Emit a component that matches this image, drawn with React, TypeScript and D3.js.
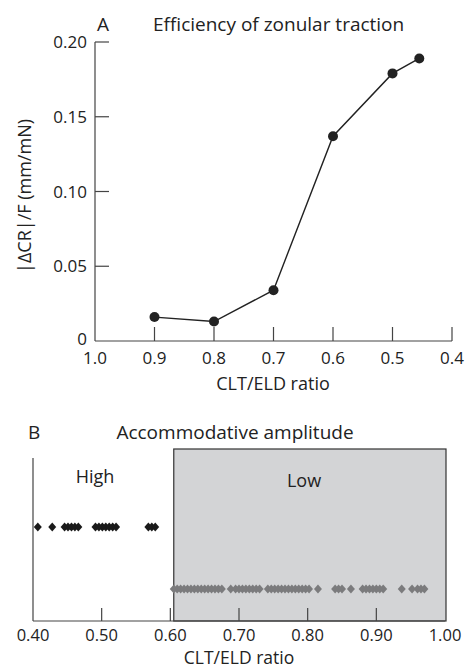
import React, { useEffect, useRef } from 'react';
import * as d3 from 'd3';

// panel A: efficiency of zonular traction
const ratioA = [0.9, 0.8, 0.7, 0.6, 0.5, 0.455];
const effA = [0.016, 0.013, 0.034, 0.137, 0.179, 0.189];
const yTicksA = [0, 0.05, 0.1, 0.15, 0.2];
const xTicksA = [1.0, 0.9, 0.8, 0.7, 0.6, 0.5, 0.4];

// panel B: accommodative amplitude groups
const highRatios = [0.407, 0.428, 0.446, 0.451, 0.456, 0.461, 0.466, 0.491, 0.496, 0.501, 0.506, 0.511,
  0.516, 0.521, 0.568, 0.573, 0.578];
const lowRatios = [0.605, 0.61, 0.615, 0.62, 0.625, 0.63, 0.635, 0.64, 0.645, 0.65, 0.655, 0.66, 0.665,
  0.67, 0.675, 0.688, 0.695, 0.70, 0.705, 0.71, 0.715, 0.72, 0.725, 0.73, 0.742, 0.747, 0.752, 0.757,
  0.762, 0.767, 0.772, 0.777, 0.782, 0.787, 0.792, 0.797, 0.802, 0.815, 0.840, 0.845, 0.850, 0.863,
  0.880, 0.885, 0.890, 0.895, 0.900, 0.905, 0.910, 0.937, 0.952, 0.960, 0.965, 0.970];
const lowStart = 0.605;
const xTicksB = [0.4, 0.5, 0.6, 0.7, 0.8, 0.9, 1.0];

const FONT = '"Open Sans", "Noto Sans", sans-serif';

const App = () => {
  const svgRef = useRef<SVGSVGElement>(null);

  useEffect(() => {
    const svg = d3.select(svgRef.current);
    svg.selectAll('*').remove();
    const ink = '#222';
    const axisCol = '#444';

    // ---------- panel A ----------
    const xA = d3.scaleLinear().domain([1.0, 0.4]).range([95, 452]);
    const yA = d3.scaleLinear().domain([0, 0.2]).range([341, 42]);
    const gA = svg.append('g');

    gA.append('line').attr('x1', xA(1.0)).attr('x2', xA(0.4)).attr('y1', yA(0)).attr('y2', yA(0))
      .attr('stroke', axisCol).attr('stroke-width', 1.2);
    gA.append('line').attr('x1', xA(1.0)).attr('x2', xA(1.0)).attr('y1', yA(0)).attr('y2', yA(0.2))
      .attr('stroke', axisCol).attr('stroke-width', 1.2);

    gA.selectAll('.ytick').data(yTicksA.slice(1)).enter().append('line')
      .attr('x1', xA(1.0)).attr('x2', xA(1.0) + 14)
      .attr('y1', d => yA(d)).attr('y2', d => yA(d))
      .attr('stroke', axisCol).attr('stroke-width', 1.2);
    gA.selectAll('.ylab').data(yTicksA).enter().append('text')
      .attr('x', xA(1.0) - 8)
      .attr('y', d => d === 0 ? yA(d) + 4 : yA(d) + 6)
      .attr('text-anchor', 'end')
      .style('font-family', FONT).style('font-size', '17px').attr('fill', ink)
      .text(d => d === 0 ? '0' : d.toFixed(2));

    gA.selectAll('.xtick').data(xTicksA.slice(1)).enter().append('line')
      .attr('x1', d => xA(d)).attr('x2', d => xA(d))
      .attr('y1', yA(0)).attr('y2', yA(0) - 14)
      .attr('stroke', axisCol).attr('stroke-width', 1.2);
    gA.selectAll('.xlab').data(xTicksA).enter().append('text')
      .attr('x', d => xA(d)).attr('y', 364)
      .attr('text-anchor', 'middle')
      .style('font-family', FONT).style('font-size', '17px').attr('fill', ink)
      .text(d => d.toFixed(1));

    gA.append('text').attr('x', 273).attr('y', 390).attr('text-anchor', 'middle')
      .style('font-family', FONT).style('font-size', '18px').attr('fill', ink)
      .text('CLT/ELD ratio');
    gA.append('text').attr('transform', 'translate(31,196) rotate(-90)').attr('text-anchor', 'middle')
      .style('font-family', FONT).style('font-size', '18px').attr('fill', ink)
      .text('|ΔCR|/F (mm/mN)');
    gA.append('text').attr('x', 97).attr('y', 31)
      .style('font-family', FONT).style('font-size', '19px').attr('fill', ink).text('A');
    gA.append('text').attr('x', 153).attr('y', 31)
      .style('font-family', FONT).style('font-size', '19px').attr('fill', ink)
      .text('Efficiency of zonular traction');

    const ptsA = ratioA.map((r, i) => [r, effA[i]] as [number, number]);
    const line = d3.line<[number, number]>().x(d => xA(d[0])).y(d => yA(d[1]));
    gA.append('path').attr('d', line(ptsA)).attr('fill', 'none').attr('stroke', ink).attr('stroke-width', 1.4);
    gA.selectAll('.dot').data(ptsA).enter().append('circle')
      .attr('cx', d => xA(d[0])).attr('cy', d => yA(d[1])).attr('r', 5).attr('fill', ink);

    // ---------- panel B ----------
    const xB = d3.scaleLinear().domain([0.4, 1.0]).range([33, 445]);
    const base = 621;
    const gB = svg.append('g');

    gB.append('rect').attr('x', xB(lowStart)).attr('y', 449)
      .attr('width', xB(1.0) - xB(lowStart) + 1).attr('height', base - 449)
      .attr('fill', '#d3d4d6').attr('stroke', '#333').attr('stroke-width', 1.2);

    gB.append('line').attr('x1', xB(0.4)).attr('x2', xB(1.0)).attr('y1', base).attr('y2', base)
      .attr('stroke', axisCol).attr('stroke-width', 1.2);
    gB.append('line').attr('x1', xB(0.4)).attr('x2', xB(0.4)).attr('y1', base).attr('y2', 458)
      .attr('stroke', axisCol).attr('stroke-width', 1.2);
    gB.selectAll('.xtick').data(xTicksB.slice(1, -1)).enter().append('line')
      .attr('x1', d => xB(d)).attr('x2', d => xB(d))
      .attr('y1', base).attr('y2', base - 13)
      .attr('stroke', axisCol).attr('stroke-width', 1.2);
    gB.selectAll('.xlab').data(xTicksB).enter().append('text')
      .attr('x', d => xB(d)).attr('y', 641).attr('text-anchor', 'middle')
      .style('font-family', FONT).style('font-size', '16.5px').attr('fill', ink)
      .text(d => d.toFixed(2));
    gB.append('text').attr('x', 239).attr('y', 664).attr('text-anchor', 'middle')
      .style('font-family', FONT).style('font-size', '17.5px').attr('fill', ink)
      .text('CLT/ELD ratio');
    gB.append('text').attr('x', 28).attr('y', 439)
      .style('font-family', FONT).style('font-size', '19px').attr('fill', ink).text('B');
    gB.append('text').attr('x', 235).attr('y', 439).attr('text-anchor', 'middle')
      .style('font-family', FONT).style('font-size', '19px').attr('fill', ink)
      .text('Accommodative amplitude');
    gB.append('text').attr('x', 95).attr('y', 483).attr('text-anchor', 'middle')
      .style('font-family', FONT).style('font-size', '18px').attr('fill', ink).text('High');
    gB.append('text').attr('x', 304).attr('y', 487).attr('text-anchor', 'middle')
      .style('font-family', FONT).style('font-size', '18px').attr('fill', ink).text('Low');

    const diamond = 'M0,-4.5L4,0L0,4.5L-4,0Z';
    gB.selectAll('.hi').data(highRatios).enter().append('path')
      .attr('d', diamond).attr('transform', d => `translate(${xB(d)},527)`).attr('fill', '#1a1a1a');
    gB.selectAll('.lo').data(lowRatios).enter().append('path')
      .attr('d', diamond).attr('transform', d => `translate(${xB(d)},589)`).attr('fill', '#7b7b7d');
  }, []);

  return (
    <svg ref={svgRef} width={467} height={669}
      style={{ position: 'absolute', left: 0, top: 0, background: 'white' }} />
  );
};

export default App;
